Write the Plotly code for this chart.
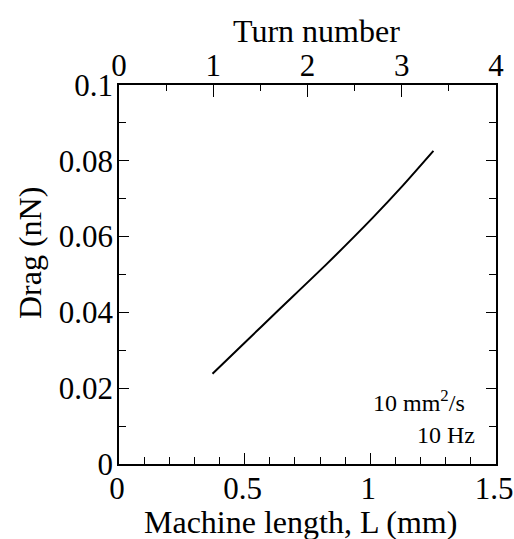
import plotly.graph_objects as go

# Drag versus machine length (10 mm^2/s, 10 Hz)
length_mm = [0.372, 0.50, 0.63, 0.83, 1.01, 1.13, 1.251]
drag_nN = [0.0238, 0.0320, 0.0403, 0.0530, 0.0650, 0.0735, 0.0826]

length_range = [0, 1.5]
turn_range = [0, 4]
drag_range = [0, 0.1]

serif = "'Liberation Serif', 'Times New Roman', Times, serif"
tick_font = dict(family=serif, size=31, color="black")
title_font = dict(family=serif, size=32, color="black")

W, H = 514, 539
M = dict(l=119, r=18, t=85, b=75)
plot_w = W - M["l"] - M["r"]
plot_h = H - M["t"] - M["b"]


def px_x(x):
    return (x - M["l"]) / plot_w


def px_y(y):
    return (H - M["b"] - y) / plot_h


fig = go.Figure()
fig.add_trace(go.Scatter(
    x=length_mm, y=drag_nN, mode="lines",
    line=dict(color="black", width=2, shape="spline", smoothing=0.6),
    showlegend=False,
))
# carrier for the turn-number axis along the top
fig.add_trace(go.Scatter(
    x=turn_range, y=[None, None], xaxis="x2", mode="lines",
    showlegend=False, hoverinfo="skip",
))

axis_common = dict(
    showgrid=False, zeroline=False, showline=True, linecolor="black",
    linewidth=1.6, ticks="inside", tickcolor="black", tickwidth=1.4,
    tickfont=tick_font, automargin=False, ticklabeloverflow="allow",
)

fig.update_layout(
    width=W, height=H,
    margin=M,
    paper_bgcolor="white", plot_bgcolor="white",
    font=dict(family=serif, color="black"),
    xaxis=dict(
        **axis_common, range=length_range, dtick=0.5, ticklen=11,
        tickvals=[0, 0.5, 1, 1.5], ticktext=["0", "0.5", "1", "1.5"],
        ticklabelstandoff=-4, ticklabelshift=-2,
        minor=dict(dtick=0.1, ticks="inside", ticklen=7, tickcolor="black", tickwidth=1.3),
    ),
    xaxis2=dict(
        **axis_common, range=turn_range, dtick=1, ticklen=12,
        overlaying="x", side="top", anchor="y", ticklabelstandoff=-5,
        minor=dict(dtick=0.5, ticks="inside", ticklen=6, tickcolor="black", tickwidth=1.3),
    ),
    yaxis=dict(
        **axis_common, range=drag_range, dtick=0.02, ticklen=10, mirror="ticks",
        tickvals=[0, 0.02, 0.04, 0.06, 0.08, 0.1],
        ticktext=["0", "0.02", "0.04", "0.06", "0.08", "0.1"],
        ticklabelstandoff=-2,
        minor=dict(dtick=0.01, ticks="inside", ticklen=7, tickcolor="black", tickwidth=1.3),
    ),
    annotations=[
        dict(x=px_x(300), y=px_y(522), xref="paper", yref="paper",
             xanchor="center", yanchor="middle",
             text="Machine length, L (mm)", showarrow=False, font=title_font),
        dict(x=px_x(316), y=px_y(31), xref="paper", yref="paper",
             xanchor="center", yanchor="middle",
             text="Turn number", showarrow=False, font=title_font),
        dict(x=px_x(30), y=px_y(253), xref="paper", yref="paper",
             xanchor="center", yanchor="middle", textangle=-90,
             text="Drag (nN)", showarrow=False, font=title_font),
        dict(x=1.386, y=0.0166, xref="x", yref="y", xanchor="right", yanchor="middle",
             text="10 mm<sup>2</sup>/s", showarrow=False,
             font=dict(family=serif, size=24, color="black")),
        dict(x=1.425, y=0.0077, xref="x", yref="y", xanchor="right", yanchor="middle",
             text="10 Hz", showarrow=False,
             font=dict(family=serif, size=24, color="black")),
    ],
)

fig.write_html("out.html")
